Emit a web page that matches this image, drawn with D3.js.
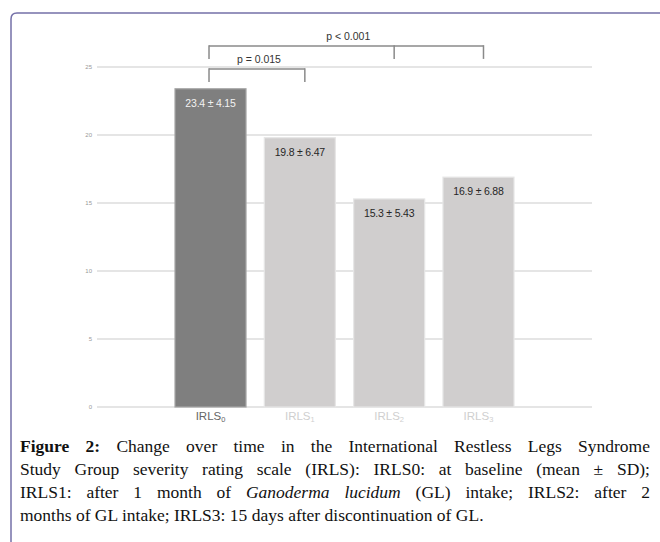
<!DOCTYPE html>
<html>
<head>
<meta charset="utf-8">
<script src="https://cdn.jsdelivr.net/npm/d3@7"></script>
<style>
  html, body { margin: 0; padding: 0; background: #fff; }
  #wrap { position: relative; width: 660px; height: 542px; overflow: hidden; }
  svg { position: absolute; left: 0; top: 0; }
  .cap {
    position: absolute; left: 20px; width: 630px;
    font-family: 'Liberation Serif', 'Times New Roman', serif;
    font-size: 17.5px; line-height: 23px; color: #111; white-space: nowrap;
  }
  .cap.just { text-align: justify; text-align-last: justify; white-space: normal; }
</style>
</head>
<body>
<div id="wrap"></div>
<script>
// data
const categories = ['IRLS0', 'IRLS1', 'IRLS2', 'IRLS3']
const means = [23.4, 19.8, 15.3, 16.9]
const sds = [4.15, 6.47, 5.43, 6.88]
const yTicks = [0, 5, 10, 15, 20, 25]
const brackets = [
  { from: 'IRLS0', to: ['IRLS1'], level: 24.85, label: 'p = 0.015' },
  { from: 'IRLS0', to: ['IRLS2', 'IRLS3'], level: 26.55, label: 'p < 0.001' },
]
const captionLines = [
  '<b>Figure 2:</b> Change over time in the International Restless Legs Syndrome',
  'Study Group severity rating scale (IRLS): IRLS0: at baseline (mean ± SD);',
  'IRLS1: after 1 month of <i>Ganoderma lucidum</i> (GL) intake; IRLS2: after 2',
  'months of GL intake; IRLS3: 15 days after discontinuation of GL.',
]

// size
const W = 660, H = 542

// scale
const x = d3.scaleBand().domain(categories).range([175, 514]).paddingInner(0.205).paddingOuter(0)
const y = d3.scaleLinear().domain([0, 25]).range([407, 67])
const cx = c => x(c) + x.bandwidth() / 2

const labelFont = "'Liberation Sans Narrow', 'Arial Narrow', 'Liberation Sans', sans-serif"

const wrap = d3.select('#wrap')
const svg = wrap.append('svg').attr('width', W).attr('height', H)

// outer frame
svg.append('path')
  .attr('d', `M11,${H + 2} L11,19 Q11,13 17,13 L${W + 2},13`)
  .attr('fill', 'none')
  .attr('stroke', '#7470a8')
  .attr('stroke-width', 1.5)

// gridlines
svg.append('g')
  .selectAll('line')
  .data(yTicks)
  .join('line')
  .attr('x1', 97)
  .attr('x2', 592)
  .attr('y1', d => y(d))
  .attr('y2', d => y(d))
  .attr('stroke', '#dcdcdc')
  .attr('stroke-width', 1.6)

// y tick labels
svg.append('g')
  .selectAll('text')
  .data(yTicks)
  .join('text')
  .attr('x', 92)
  .attr('y', d => y(d) + 2)
  .attr('text-anchor', 'end')
  .attr('font-family', 'Liberation Sans, Arial, sans-serif')
  .attr('font-size', 6)
  .attr('fill', '#999')
  .text(d => d)

// bars
const barData = categories.map((c, i) => ({ c, mean: means[i], sd: sds[i], i }))
svg.append('g')
  .selectAll('rect')
  .data(barData)
  .join('rect')
  .attr('x', d => x(d.c))
  .attr('y', d => y(d.mean))
  .attr('width', x.bandwidth())
  .attr('height', d => y(0) - y(d.mean))
  .attr('fill', d => (d.i === 0 ? '#7f7f7f' : '#d0cece'))
  .attr('stroke', d => (d.i === 0 ? '#a6a6a6' : '#e6e6e6'))
  .attr('stroke-width', 1.2)

// value labels
svg.append('g')
  .selectAll('text')
  .data(barData)
  .join('text')
  .attr('x', d => cx(d.c))
  .attr('y', d => y(d.mean) + 18)
  .attr('text-anchor', 'middle')
  .attr('font-family', labelFont)
  .attr('font-size', 10.5)
  .attr('letter-spacing', -0.2)
  .attr('fill', d => (d.i === 0 ? '#f2f2f2' : '#262626'))
  .text(d => `${d.mean} ± ${d.sd}`)

// x labels with subscript
const xl = svg.append('g')
  .selectAll('text')
  .data(barData)
  .join('text')
  .attr('x', d => cx(d.c))
  .attr('y', 420)
  .attr('text-anchor', 'middle')
  .attr('font-family', labelFont)
  .attr('font-size', 11.5)
  .attr('fill', d => (d.i === 0 ? '#666' : '#cfcfcf'))
xl.append('tspan').text(d => d.c.slice(0, 4))
xl.append('tspan').attr('font-size', 7.5).attr('dy', 2).text(d => d.c.slice(4))

// significance brackets
const bg = svg.append('g')
brackets.forEach(b => {
  const yy = y(b.level)
  const ends = b.to.map(c => cx(c) + 5)
  const x1 = cx(b.from) - 1.5
  const x2 = d3.max(ends)
  bg.append('line')
    .attr('x1', x1).attr('x2', x2).attr('y1', yy).attr('y2', yy)
    .attr('stroke', '#8a8a8a').attr('stroke-width', 1.5)
  ;[x1, ...ends].forEach(xx => {
    bg.append('line')
      .attr('x1', xx).attr('x2', xx).attr('y1', yy - 0.75).attr('y2', yy + 13)
      .attr('stroke', '#8a8a8a').attr('stroke-width', 1.5)
  })
  bg.append('text')
    .attr('x', (x1 + x2) / 2 + 2)
    .attr('y', yy - 6)
    .attr('text-anchor', 'middle')
    .attr('font-family', labelFont)
    .attr('font-size', 10.5)
    .attr('fill', '#333')
    .text(b.label)
})

// caption
captionLines.forEach((line, i) => {
  wrap.append('div')
    .attr('class', i < captionLines.length - 1 ? 'cap just' : 'cap')
    .style('top', `${435 + i * 23}px`)
    .html(line)
})
</script>
</body>
</html>
